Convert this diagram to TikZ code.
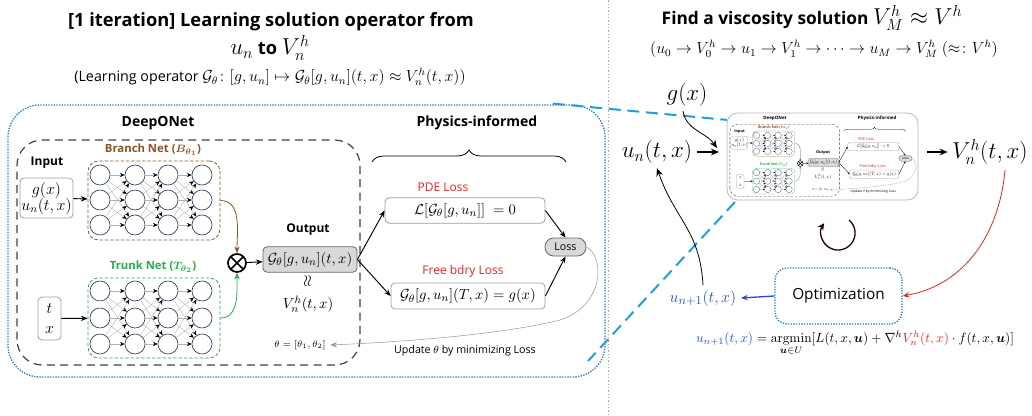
\documentclass[tikz,border=0pt]{standalone}
\usepackage{amsmath,amssymb}
\usepackage[no-math]{fontspec}
\setmainfont{Open Sans}
\usetikzlibrary{arrows.meta,decorations.pathreplacing}
\definecolor{brownc}{RGB}{140,82,38}
\definecolor{greenc}{RGB}{40,170,80}
\definecolor{neuronc}{RGB}{50,62,95}
\definecolor{redc}{RGB}{230,35,35}
\definecolor{bluec}{RGB}{35,75,225}
\definecolor{ltblue}{RGB}{30,160,220}
\definecolor{dotblue}{RGB}{45,120,200}
\def\sc{1}
\def\bramp{9pt}
\tikzset{
  ah/.tip={Stealth[length=5pt,width=4pt]},
  nh/.tip={Stealth[length=3.5pt,width=3pt,color=black]},
  hd/.style={font=\bfseries\fontsize{10.5}{12}\selectfont},
  lb/.style={font=\bfseries\fontsize{9}{11}\selectfont},
  deepbox/.style={draw=black!75, line width=0.9pt*\sc, dash pattern=on 6pt off 4pt, rounded corners=19pt*\sc},
  brbox/.style={draw=brownc, line width=0.6pt*\sc, dash pattern=on 2.5pt off 1.5pt, rounded corners=8pt*\sc},
  trbox/.style={draw=greenc, line width=0.6pt*\sc, dash pattern=on 2.5pt off 1.5pt, rounded corners=8pt*\sc},
  inbox/.style={draw=gray!75, line width=0.6pt*\sc, rounded corners=3pt*\sc, fill=white, align=center, inner sep=0pt, font=\fontsize{12}{13}\selectfont},
  neuron/.style={circle, draw=neuronc, fill=white, minimum size=15pt, inner sep=0pt, line width=0.5pt*\sc},
  conn/.style={draw=gray!60, line width=0.3pt*\sc, -nh},
  otimes/.style={circle, draw, line width=1.3pt*\sc, minimum size=13.5pt, inner sep=0pt,
    path picture={\draw[line width=1.3pt*\sc] (path picture bounding box.north west) -- (path picture bounding box.south east) (path picture bounding box.north east) -- (path picture bounding box.south west);}},
  outbox/.style={draw=gray!80!black, fill=gray!30, line width=0.6pt*\sc, rounded corners=3pt*\sc, inner sep=0pt, font=\fontsize{11}{12}\selectfont},
  lossbox/.style={draw=gray!75, line width=0.6pt*\sc, rounded corners=3pt*\sc, inner sep=0pt, font=\fontsize{11}{12}\selectfont},
  lossnode/.style={draw=gray!80!black, fill=gray!30, line width=0.6pt*\sc, rounded corners=6.5pt*\sc, inner sep=0pt, font=\fontsize{8}{9}\selectfont},
  arr/.style={line width=0.7pt*\sc, -ah},
  redlab/.style={text=redc, font=\fontsize{9}{10}\selectfont},
}
\newcommand{\diagbody}{%
  \node[hd] (dtitle) at (158,292) {DeepONet};
  \draw[deepbox] (17,50) rectangle (360,275);
  \node[lb] (inlab) at (47,252) {Input};
  \node[inbox, minimum width=39.75pt, minimum height=30pt] (in1) at (46.5,217) {$g(x)$\\[-1pt]$u_n(t,x)$};
  \node[inbox, minimum width=17.25pt, minimum height=32.25pt] (in2) at (49.5,96.5) {$t$\\[2pt]$x$};
  \node[brbox, minimum width=99pt, minimum height=59.25pt] (br) at (154,214.5) {};
  \node[text=brownc, font=\bfseries\fontsize{8.5}{10}\selectfont] (brl) at (153,265) {Branch Net ($\boldsymbol{B_{\theta_1}}$)};
  \node[trbox, minimum width=99pt, minimum height=60pt] (tr) at (154,97) {};
  \node[text=greenc, font=\bfseries\fontsize{8.5}{10}\selectfont] (trl) at (153,148) {Trunk Net ($\boldsymbol{T_{\theta_2}}$)};
  \foreach \c/\x in {1/100,2/135,3/168,4/202}{
    \foreach \r/\y in {1/240,2/215,3/190} {\node[neuron] (b\c\r) at (\x,\y) {};}
    \foreach \r/\y in {1/124,2/97,3/71} {\node[neuron] (t\c\r) at (\x,\y) {};}
  }
  \foreach \c/\d in {1/2,2/3,3/4}{
    \foreach \r in {1,2,3}{
      \foreach \s in {1,2,3}{
        \draw[conn] (b\c\r) -- (b\d\s);
        \draw[conn] (t\c\r) -- (t\d\s);
      }
    }
  }
  \draw[arr] (in1) -- (br);
  \draw[arr] (in2) -- (tr);
  \node[otimes] (ot) at (237,152) {};
  \draw[draw=brownc, line width=0.6pt*\sc, -ah] (br.east) to[out=0,in=90] (ot.north);
  \draw[draw=greenc, line width=0.6pt*\sc, -ah] (tr.east) to[out=0,in=-90] (ot.south);
  \node[outbox, minimum width=70.5pt, minimum height=19pt] (outb) at (310,155.5) {$\mathcal{G}_\theta[g,u_n](t,x)$};
  \draw[arr] (ot) -- (outb);
  \node[lb] (outlab) at (308,185) {Output};
  \node[rotate=90, font=\fontsize{13}{14}\selectfont, inner sep=0pt] (apx) at (308,134) {$\approx$};
  \node[font=\fontsize{11}{12}\selectfont, inner sep=1pt] (vn) at (308,111) {$V_n^h(t,x)$};
  \node[font=\fontsize{7.5}{9}\selectfont] (th) at (300,70) {$\theta=[\theta_1,\theta_2]$};
  \node[hd] (phys) at (477,292) {Physics-informed};
  \draw[line width=0.6pt*\sc, decorate, decoration={brace, amplitude=\bramp}] (372,253) -- (566,253);
  \node[redlab] (pdel) at (443,228) {PDE Loss};
  \node[lossbox, minimum width=120pt, minimum height=19pt] (pde) at (465,204.5) {$\mathcal{L}[\mathcal{G}_\theta[g,u_n]]\ =0$};
  \node[redlab] (fbl) at (463,144) {Free bdry Loss};
  \node[lossbox, minimum width=115.5pt, minimum height=19.5pt] (fb) at (468,119) {$\mathcal{G}_\theta[g,u_n](T,x)=g(x)$};
  \node[lossnode, minimum width=30.75pt, minimum height=13.5pt] (loss) at (565.5,168) {Loss};
  \draw[arr] (outb.east) -- (pde.west);
  \draw[arr] (outb.east) -- (fb.west);
  \draw[arr] (pde.east) -- (loss.north);
  \draw[arr] (fb.east) -- (loss.south);
  \draw[draw=gray!80, line width=0.4pt*\sc, -ah] (loss.east) .. controls (604,160) and (606,110) .. (560,95) .. controls (500,80) and (400,73) .. (th.east);
  \node[font=\fontsize{8}{9}\selectfont] (upd) at (465,64) {Update $\theta$ by minimizing Loss};
}
\begin{document}
\begin{tikzpicture}[x=0.75pt,y=0.75pt]
\useasboundingbox (0,0) rectangle (1032,415);
% left title
\node[font=\bfseries\fontsize{13.7}{16}\selectfont] (t1) at (271,393) {[1 iteration] Learning solution operator from};
\node[font=\bfseries\fontsize{13.7}{16}\selectfont] (t1b) at (270,367) {{\mdseries\fontsize{17}{18}\selectfont$u_n$} to {\mdseries\fontsize{17}{18}\selectfont$V_n^h$}};
\node[font=\fontsize{10.7}{12}\selectfont] (t2) at (270,338) {(Learning operator {\fontsize{11.6}{13}\selectfont$\mathcal{G}_\theta\colon[g,u_n]\mapsto\mathcal{G}_\theta[g,u_n](t,x)\approx V_n^h(t,x))$}};
% divider
\draw[gray!70, line width=0.6pt, dash pattern=on 1pt off 1.5pt] (608,0) -- (608,415);
% blue dotted frame
\draw[dotblue, line width=1pt, dash pattern=on 1pt off 1pt, rounded corners=24pt] (8,38) rectangle (605,310);
\diagbody
% right side
\node[font=\bfseries\fontsize{13}{16}\selectfont] (t3) at (812,397) {Find a viscosity solution {\mdseries\fontsize{17}{18}\selectfont$V_M^h\approx V^h$}};
\node[font=\fontsize{11.7}{13}\selectfont] (t4) at (824,366) {$(u_0\to V_0^h\to u_1\to V_1^h\to\cdots\to u_M\to V_M^h\ (\approx\colon V^h)$};
% mini copy
\draw[ltblue, line width=1.5pt, dash pattern=on 9pt off 5pt] (553,311.4) coordinate (d1a) -- (728,295) coordinate (d1b);
\draw[ltblue, line width=1.5pt, dash pattern=on 9pt off 5pt] (735,213) coordinate (d2a) -- (588,54) coordinate (d2b);
\begin{scope}[shift={(724.44,202.8)}, scale=0.32, transform shape, name prefix=m-]
  \def\sc{0.32}\def\bramp{2.9pt}
  \tikzset{ah/.tip={Stealth[length=1.6pt,width=1.3pt]}, nh/.tip={Stealth[length=1.1pt,width=1pt,color=black]},
    deepbox/.append style={dash pattern=on 2pt off 1.3pt}, brbox/.append style={dash pattern=on 0.8pt off 0.5pt}, trbox/.append style={dash pattern=on 0.8pt off 0.5pt}}
  \fill[white] (8,38) rectangle (605,310);
  \draw[gray!60, line width=0.5pt, rounded corners=8pt] (8,38) rectangle (605,310);
  \diagbody
\end{scope}
\node[font=\fontsize{17}{18}\selectfont] (g) at (687,320) {$g(x)$};
\node[font=\fontsize{17}{18}\selectfont] (un) at (657,263) {$u_n(t,x)$};
\node[font=\fontsize{17}{18}\selectfont] (vh) at (990,263) {$V_n^h(t,x)$};
\coordinate (minl) at (719,263);
\coordinate (minr) at (927,263);
\draw[line width=0.8pt, -{Stealth[length=6pt,width=5pt]}] (un) -- (minl);
\draw[line width=0.8pt, -{Stealth[length=6pt,width=5pt]}] (minr) -- (vh);
\draw[line width=0.6pt, -{Stealth[length=6pt,width=5pt]}] (g.south) ++(-4,0) to[out=-80,in=125] (717,267);
\draw[line width=1pt, black!85!red, -{Stealth[length=5pt,width=5pt]}] (849,195) arc[start angle=50, end angle=-215, radius=17*0.75pt];
\node[draw=dotblue, line width=1pt, dash pattern=on 1pt off 1pt, rounded corners=9pt, minimum width=95.25pt, minimum height=42pt, font=\fontsize{11.5}{13}\selectfont] (opt) at (838.5,119) {Optimization};
\node[text=bluec, font=\fontsize{13}{14}\selectfont] (un1) at (703,117) {$u_{n+1}(t,x)$};
\draw[redc, line width=0.6pt, -{Stealth[length=5pt,width=4pt]}] (1005,245) to[out=-95,in=10] (opt.east);
\draw[bluec, line width=1pt, -{Stealth[length=5pt,width=4pt]}] (opt.west) -- (un1.east);
\draw[line width=0.6pt, -{Stealth[length=6pt,width=5pt]}] (un1.north) .. controls (700,185) and (675,195) .. (un.south);
\node[font=\fontsize{10}{12}\selectfont] (form) at (855,72) {$\textcolor{bluec}{u_{n+1}(t,x)}=\operatorname*{argmin}\limits_{\boldsymbol{u}\in U}[L(t,x,\boldsymbol{u})+\nabla^h\textcolor{redc}{V_n^h(t,x)}\cdot f(t,x,\boldsymbol{u})]$};
\end{tikzpicture}
\end{document}
